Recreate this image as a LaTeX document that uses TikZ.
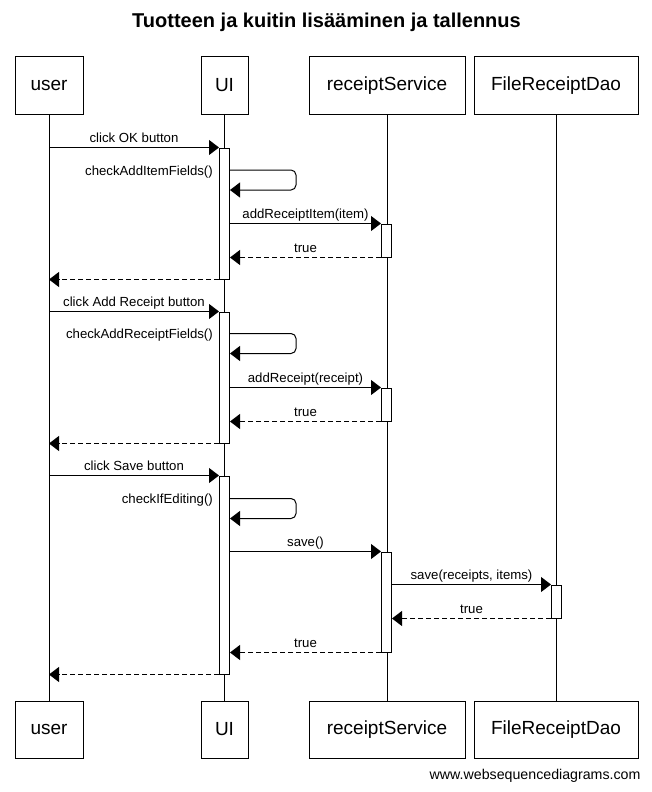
\documentclass[tikz,border=0pt]{standalone}
\usepackage{fontspec}
\setmainfont{Liberation Sans}
\usetikzlibrary{arrows.meta}
\begin{document}
\begin{tikzpicture}[x=1pt,y=-1pt]
  \tikzstyle{actor}=[draw,line width=1pt,minimum height=57pt,inner sep=0pt,font=\fontsize{19}{22}\selectfont]
  \tikzstyle{act}=[draw,line width=1pt,fill=white,minimum width=10pt,inner sep=0pt]
  \tikzstyle{life}=[draw,line width=1pt]
  \tikzstyle{msg}=[draw,line width=1pt,-{Triangle[length=10pt,width=15pt]}]
  \tikzstyle{ret}=[msg,dash pattern=on 5pt off 3pt]
  \tikzstyle{lbl}=[font=\fontsize{13.2}{15}\selectfont,inner sep=2pt,text height=9.5pt,text depth=3pt]
  \tikzstyle{self lbl}=[lbl,anchor=east,yshift=-2pt,xshift=-4pt]
  \useasboundingbox (0,0) rectangle (652,792);

  \node[font=\fontsize{20}{24}\selectfont\bfseries] (title) at (326.5,22) {Tuotteen ja kuitin lisääminen ja tallennus};

  \node[actor,minimum width=68pt] (user) at (49,85.5) {user};
  \node[actor,minimum width=47pt] (ui) at (224.5,85.5) {UI};
  \node[actor,minimum width=156pt] (rs) at (387,85.5) {receiptService};
  \node[actor,minimum width=164pt] (dao) at (556,85.5) {FileReceiptDao};
  \node[actor,minimum width=68pt] (user2) at (49,729.5) {user};
  \node[actor,minimum width=47pt] (ui2) at (224.5,729.5) {UI};
  \node[actor,minimum width=156pt] (rs2) at (387,729.5) {receiptService};
  \node[actor,minimum width=164pt] (dao2) at (556,729.5) {FileReceiptDao};

  \draw[life] (user) -- (user2);
  \draw[life] (ui) -- (ui2);
  \draw[life] (rs) -- (rs2);
  \draw[life] (dao) -- (dao2);

  \node[act,minimum height=131pt] (a1) at (224.5,213.5) {};
  \node[act,minimum height=33pt] (b1) at (386.5,240.5) {};
  \node[act,minimum height=131pt] (a2) at (224.5,377.5) {};
  \node[act,minimum height=33pt] (b2) at (386.5,404.5) {};
  \node[act,minimum height=198pt] (a3) at (224.5,575) {};
  \node[act,minimum height=100pt] (b3) at (386.5,602) {};
  \node[act,minimum height=33pt] (c1) at (556.5,601.5) {};

  \draw[msg] (user |- a1.north west) -- node[lbl,above] (t1) {click OK button} (a1.north west);
  \draw[msg,rounded corners=5pt] ([yshift=-22.5pt]a1.north east) -- ++(66,0) -- ++(0,20) -- ++(-66,0);
  \node[self lbl] (t2) at ([yshift=-22.5pt]a1.north west) {checkAddItemFields()};
  \draw[msg] (a1.east |- b1.north west) -- node[lbl,above] (t3) {addReceiptItem(item)} (b1.north west);
  \draw[ret] (b1.south west) -- node[lbl,above] (t4) {true} (a1.east |- b1.south west);
  \draw[ret] (a1.south west) -- (user |- a1.south west);

  \draw[msg] (user |- a2.north west) -- node[lbl,above] (t5) {click Add Receipt button} (a2.north west);
  \draw[msg,rounded corners=5pt] ([yshift=-22pt]a2.north east) -- ++(66,0) -- ++(0,20) -- ++(-66,0);
  \node[self lbl] (t6) at ([yshift=-22pt]a2.north west) {checkAddReceiptFields()};
  \draw[msg] (a2.east |- b2.north west) -- node[lbl,above] (t7) {addReceipt(receipt)} (b2.north west);
  \draw[ret] (b2.south west) -- node[lbl,above] (t8) {true} (a2.east |- b2.south west);
  \draw[ret] (a2.south west) -- (user |- a2.south west);

  \draw[msg] (user |- a3.north west) -- node[lbl,above] (t9) {click Save button} (a3.north west);
  \draw[msg,rounded corners=5pt] ([yshift=-23pt]a3.north east) -- ++(66,0) -- ++(0,20) -- ++(-66,0);
  \node[self lbl] (t10) at ([yshift=-23pt]a3.north west) {checkIfEditing()};
  \draw[msg] (a3.east |- b3.north west) -- node[lbl,above] (t11) {save()} (b3.north west);
  \draw[msg] (b3.east |- c1.north west) -- node[lbl,above] (t12) {save(receipts, items)} (c1.north west);
  \draw[ret] (c1.south west) -- node[lbl,above] (t13) {true} (b3.east |- c1.south west);
  \draw[ret] (b3.south west) -- node[lbl,above] (t14) {true} (a3.east |- b3.south west);
  \draw[ret] (a3.south west) -- (user |- a3.south west);

  \node[anchor=east,font=\fontsize{14.2}{16}\selectfont] (www) at (644,776) {www.websequencediagrams.com};
\end{tikzpicture}
\end{document}
